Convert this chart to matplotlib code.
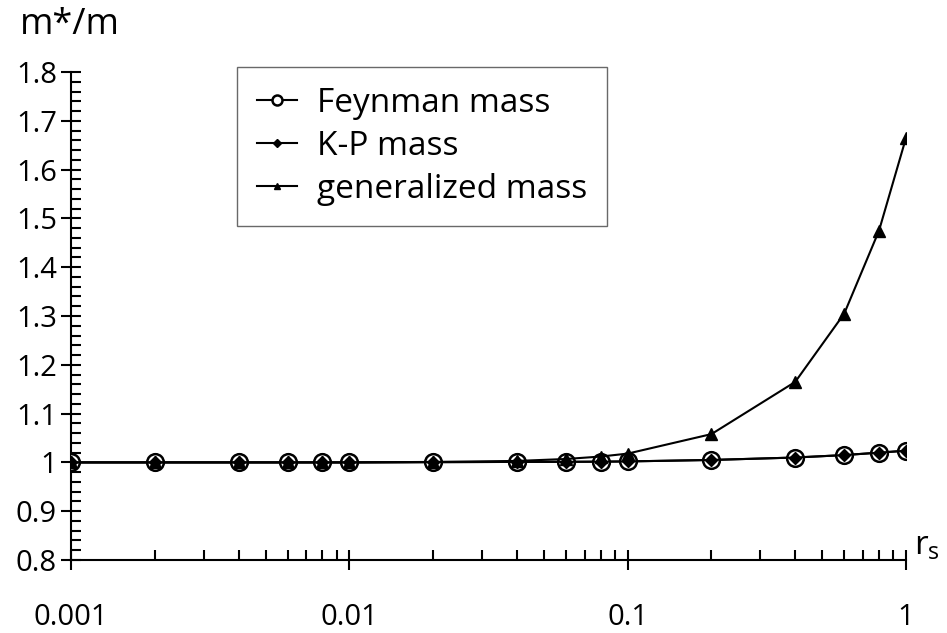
import numpy as np
import matplotlib.pyplot as plt
from matplotlib.ticker import FixedLocator, MultipleLocator, NullFormatter

plt.rcParams['font.family'] = ['Open Sans', 'DejaVu Sans']
plt.rcParams['mathtext.fontset'] = 'custom'
plt.rcParams['mathtext.rm'] = 'Open Sans'

# r_s values
rs = np.array([0.001, 0.002, 0.004, 0.006, 0.008, 0.01, 0.02, 0.04, 0.06, 0.08,
               0.1, 0.2, 0.4, 0.6, 0.8, 1.0])

feynman = np.array([1.0, 1.0, 1.0, 1.0, 1.0, 1.0, 1.0005, 1.001, 1.0012, 1.0015,
                    1.002, 1.005, 1.010, 1.015, 1.020, 1.024])
kp = np.array([1.0, 1.0, 1.0, 1.0, 1.0, 1.0, 1.0005, 1.001, 1.0012, 1.0015,
               1.002, 1.005, 1.010, 1.015, 1.020, 1.024])
generalized = np.array([1.0, 1.0, 1.0, 1.0, 1.0, 1.0, 1.001, 1.003, 1.007, 1.012,
                        1.018, 1.058, 1.165, 1.305, 1.475, 1.665])

xticks = [0.001, 0.01, 0.1, 1]
xticklabels = ['0.001', '0.01', '0.1', '1']
yticks = [0.8, 0.9, 1.0, 1.1, 1.2, 1.3, 1.4, 1.5, 1.6, 1.7, 1.8]
yticklabels = ['0.8', '0.9', '1', '1.1', '1.2', '1.3', '1.4', '1.5', '1.6', '1.7', '1.8']

fig = plt.figure(figsize=(9.47, 6.33), dpi=100)
ax = fig.add_axes([71/947, 73/633, 835/947, 488/633])

ax.plot(rs, feynman, color='black', lw=1.5, marker='o', ms=12, mfc='white',
        mec='black', mew=1.8, label='Feynman mass', zorder=3)
ax.plot(rs, kp, color='black', lw=1.5, marker='D', ms=6.5, mfc='black',
        mec='black', label='K-P mass', zorder=4)
ax.plot(rs, generalized, color='black', lw=1.5, marker='^', ms=8, mfc='black',
        mec='black', label='generalized mass', zorder=5)

ax.set_xscale('log')
ax.set_xlim(0.001, 1)
ax.set_ylim(0.8, 1.8)

ax.spines['top'].set_visible(False)
ax.spines['right'].set_visible(False)
for s in ['left', 'bottom']:
    ax.spines[s].set_linewidth(1.5)

ax.set_xticks(xticks)
ax.set_xticklabels(xticklabels)
ax.xaxis.set_minor_locator(FixedLocator([m * 10.0**e for e in range(-3, 0) for m in range(2, 10)]))
ax.xaxis.set_minor_formatter(NullFormatter())
ax.set_yticks(yticks)
ax.set_yticklabels(yticklabels)
ax.yaxis.set_minor_locator(MultipleLocator(0.02))

ax.tick_params(axis='both', which='major', direction='inout', length=14, width=1.5,
               labelsize=21)
ax.tick_params(axis='both', which='minor', direction='in', length=7, width=1.5)
ax.tick_params(axis='x', which='major', pad=24)
ax.tick_params(axis='y', which='major', pad=3)

ax.text(-0.061, 1.06, 'm*/m', transform=ax.transAxes, fontsize=26,
        ha='left', va='bottom')
ax.text(1.01, -0.005, r'r$_\mathregular{s}$', transform=ax.transAxes, fontsize=24,
        ha='left', va='bottom')

leg = ax.legend(loc='upper left', bbox_to_anchor=(166/835, 1.01), fontsize=24,
                frameon=True, fancybox=False, edgecolor='#444444', markerscale=0.6,
                handlelength=1.2, handletextpad=0.6, labelspacing=0.3,
                borderpad=0.6, borderaxespad=0.0)
leg.get_frame().set_linewidth(1.0)

fig.savefig('out.png', dpi=100)
